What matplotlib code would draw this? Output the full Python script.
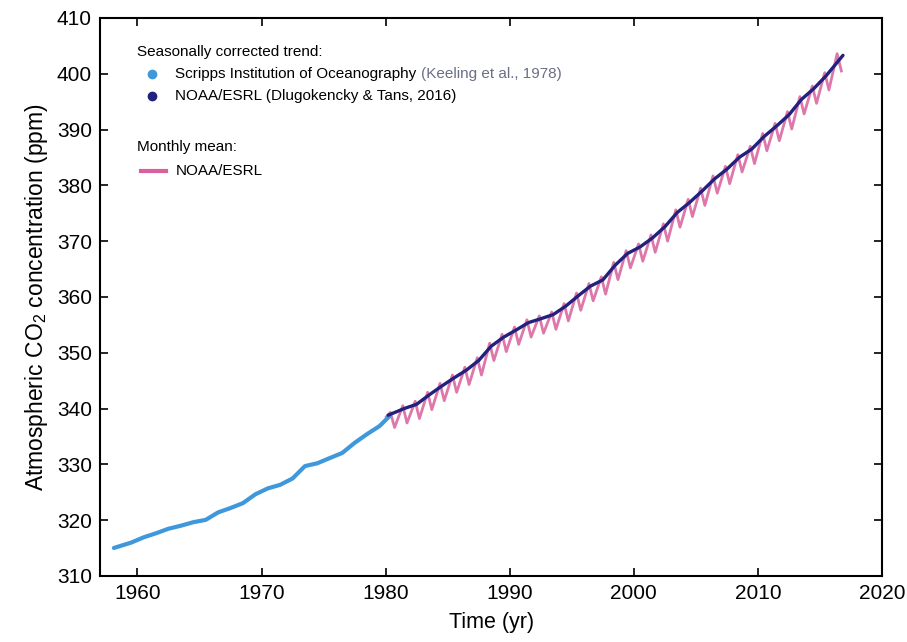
import matplotlib
matplotlib.use("Agg")
import matplotlib.pyplot as plt

plt.rcParams['font.family'] = ['Liberation Sans', 'DejaVu Sans']
plt.rcParams['mathtext.fontset'] = 'custom'
plt.rcParams['mathtext.rm'] = 'Liberation Sans'

# Seasonally corrected trend, Scripps (Mauna Loa), annual values
scripps_years = [1958, 1959, 1960, 1961, 1962, 1963, 1964, 1965, 1966, 1967, 1968,
                 1969, 1970, 1971, 1972, 1973, 1974, 1975, 1976, 1977, 1978, 1979, 1980]
scripps_co2 = [315.0, 315.97, 316.91, 317.64, 318.45, 318.99, 319.62, 320.04, 321.38,
               322.16, 323.04, 324.62, 325.68, 326.32, 327.46, 329.68, 330.19, 331.12,
               332.03, 333.84, 335.41, 336.84, 338.6]

# Seasonally corrected trend, NOAA/ESRL global marine surface, annual values
noaa_years = [1980, 1981, 1982, 1983, 1984, 1985, 1986, 1987, 1988, 1989, 1990,
              1991, 1992, 1993, 1994, 1995, 1996, 1997, 1998, 1999, 2000, 2001,
              2002, 2003, 2004, 2005, 2006, 2007, 2008, 2009, 2010, 2011, 2012,
              2013, 2014, 2015, 2016]
noaa_trend = [338.80, 340.00, 340.76, 342.43, 343.99, 345.47, 346.87, 348.61, 351.16,
              352.78, 354.05, 355.39, 356.09, 356.83, 358.33, 360.17, 361.93, 363.05,
              365.70, 367.80, 368.96, 370.57, 372.58, 375.14, 376.95, 378.98, 381.15,
              382.90, 385.02, 386.50, 388.76, 390.63, 392.65, 395.39, 397.34, 399.65,
              403.30]

# Monthly mean, NOAA/ESRL: seasonal maximum (late spring) and minimum (early autumn)
monthly_max = [339.3, 340.5, 341.3, 342.9, 344.5, 346.0, 347.4, 349.1, 351.7, 353.3,
               354.6, 355.9, 356.6, 357.3, 358.8, 360.7, 362.4, 363.6, 366.2, 368.3,
               369.5, 371.1, 373.1, 375.6, 377.5, 379.5, 381.7, 383.4, 385.5, 387.0,
               389.3, 391.1, 393.2, 395.9, 397.8, 400.2, 403.6]
monthly_min = [336.6, 337.4, 338.2, 339.8, 341.4, 342.9, 344.3, 346.0, 348.6, 350.2,
               351.5, 352.8, 353.5, 354.2, 355.7, 357.6, 359.3, 360.5, 363.1, 365.2,
               366.4, 368.0, 370.0, 372.5, 374.4, 376.4, 378.6, 380.3, 382.4, 383.9,
               386.2, 388.0, 390.1, 392.8, 394.7, 397.1, 400.5]

x_ticks = [1960, 1970, 1980, 1990, 2000, 2010, 2020]
y_ticks = [310, 320, 330, 340, 350, 360, 370, 380, 390, 400, 410]

# monthly-mean path through the alternating seasonal extremes
m_t, m_v = [noaa_years[0] + 0.05], [noaa_trend[0] - 0.3]
for yr, hi, lo in zip(noaa_years, monthly_max, monthly_min):
    m_t += [yr + 0.38, yr + 0.72]
    m_v += [hi, lo]

sc_t = [y + 0.5 for y in scripps_years]
sc_t[0] = 1958.1
sc_t[-1] = 1980.3
nt = [y + 0.5 for y in noaa_years]
nt[0] = 1980.2
nt[-1] = 2016.85

fig = plt.figure(figsize=(9.07, 6.42), dpi=100)
ax = fig.add_axes([0.1105, 0.103, 0.862, 0.869])

pink = '#d9609c'
light_blue = '#4098dc'
navy = '#22227e'

ax.plot(m_t, m_v, color=pink, lw=2.0, alpha=0.85, zorder=2)
ax.plot(sc_t, scripps_co2, color=light_blue, lw=3.0, zorder=3, solid_capstyle='round')
ax.plot(nt, noaa_trend, color=navy, lw=2.4, zorder=4, solid_capstyle='round')

ax.set_xlim(1957, 2020)
ax.set_ylim(310, 410)
ax.set_xticks(x_ticks)
ax.set_yticks(y_ticks)
ax.tick_params(direction='in', length=6, width=1.2, top=True, right=True,
               labelsize=15, pad=6)
for s in ax.spines.values():
    s.set_linewidth(1.5)

ax.set_xlabel('Time (yr)', fontsize=15.5, labelpad=6)
ax.set_ylabel('Atmospheric CO$_2$ concentration (ppm)', fontsize=16.5, labelpad=5)

# legend block, positioned in axes fractions
tr = ax.transAxes
def ax_xy(px, py):
    return ((px - 100.2) / 782.0, 1 - (py - 18.0) / 558.0)

fs = 11
x, y = ax_xy(137, 52)
ax.text(x, y, 'Seasonally corrected trend:', transform=tr, fontsize=fs, va='center', ha='left')
x, y = ax_xy(152, 74)
ax.plot([x], [y], 'o', color=light_blue, ms=6, transform=tr, clip_on=False)
x, y = ax_xy(175, 74)
t1 = ax.text(x, y, 'Scripps Institution of Oceanography ', transform=tr, fontsize=fs,
             va='center', ha='left')
fig.canvas.draw()
bb = t1.get_window_extent()
x2 = tr.inverted().transform((bb.x1, bb.y0))[0]
ax.text(x2, y, '(Keeling et al., 1978)', transform=tr, fontsize=fs, va='center',
        ha='left', color='#6a6f86')
x, y = ax_xy(152, 96)
ax.plot([x], [y], 'o', color=navy, ms=6, transform=tr, clip_on=False)
x, y = ax_xy(175, 96)
ax.text(x, y, 'NOAA/ESRL (Dlugokencky & Tans, 2016)', transform=tr, fontsize=fs,
        va='center', ha='left')
x, y = ax_xy(137, 147)
ax.text(x, y, 'Monthly mean:', transform=tr, fontsize=fs, va='center', ha='left')
xa, y = ax_xy(141, 171)
xb, _ = ax_xy(166, 171)
ax.plot([xa, xb], [y, y], color=pink, lw=3, transform=tr)
x, y = ax_xy(176, 171)
ax.text(x, y, 'NOAA/ESRL', transform=tr, fontsize=fs, va='center', ha='left')

fig.savefig('out.png', dpi=100)
